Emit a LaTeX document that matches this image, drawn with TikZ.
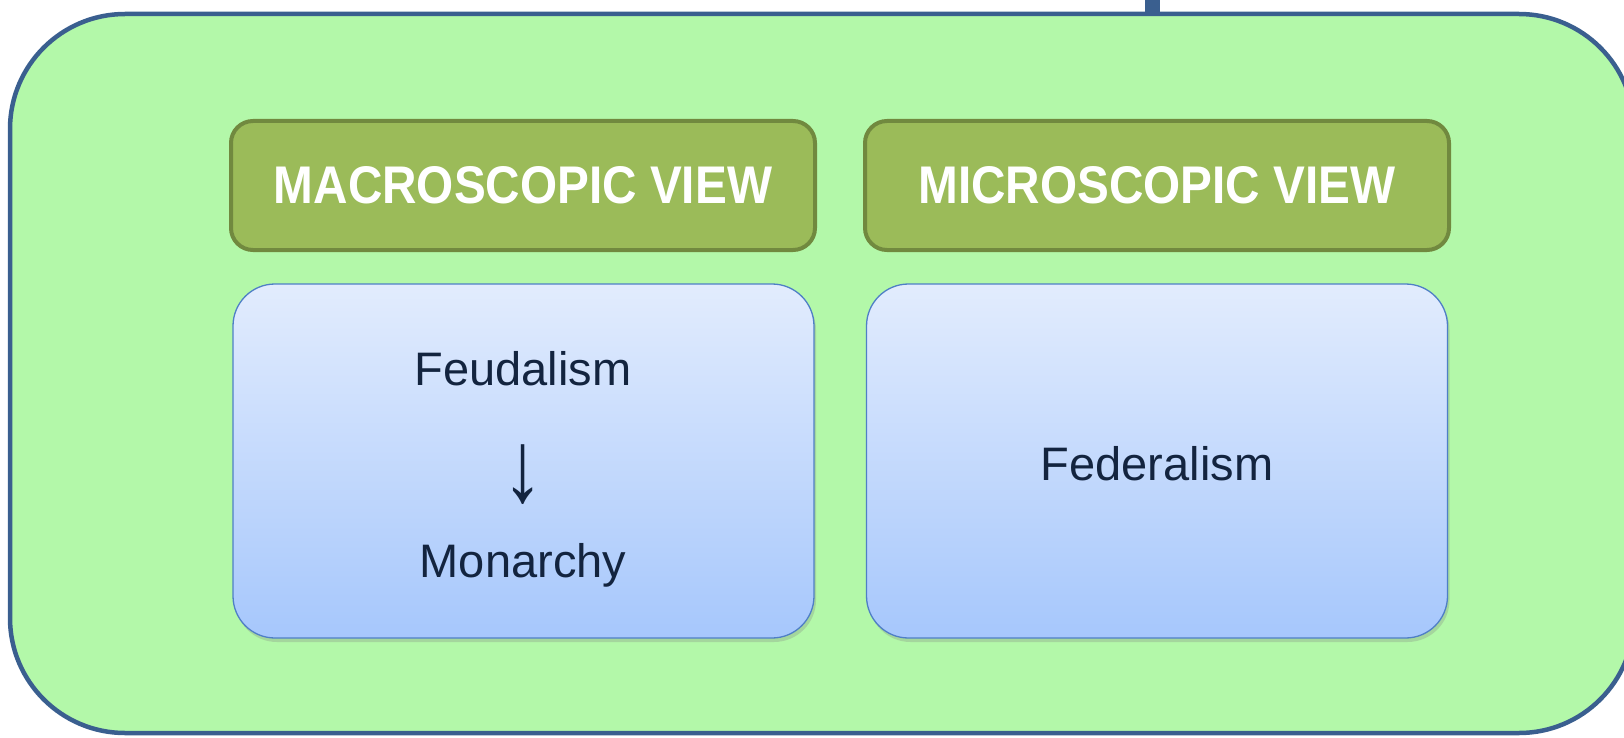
\documentclass[tikz,border=0pt]{standalone}
\usepackage{fontspec}
\setmainfont{Liberation Sans}
\usetikzlibrary{shadows}
\definecolor{outerfill}{HTML}{B3F8A9}
\definecolor{outerline}{HTML}{3A5F8F}
\definecolor{hdrfill}{HTML}{9BBB59}
\definecolor{hdrline}{HTML}{71893F}
\definecolor{boxtop}{HTML}{E2ECFD}
\definecolor{boxbot}{HTML}{A6C7FC}
\definecolor{boxline}{HTML}{4F7FC6}
\definecolor{txt}{HTML}{13243F}
\begin{document}
\begin{tikzpicture}[x=1pt,y=-1pt,
  hdr/.style={draw=hdrline, line width=4pt, fill=hdrfill, rounded corners=22pt,
    minimum width=584pt, minimum height=129pt, inner sep=0pt, text=white,
    font=\fontsize{53}{60}\selectfont\bfseries},
  bluebox/.style={draw=boxline, line width=1.3pt, rounded corners=42pt,
    top color=boxtop, bottom color=boxbot,
    minimum width=581pt, minimum height=354pt, inner sep=0pt,
    drop shadow={opacity=0.28, shadow xshift=2pt, shadow yshift=-4pt}},
  lbl/.style={text=txt, font=\fontsize{47}{56}\selectfont, inner sep=0pt, anchor=base}
]
\useasboundingbox (0,0) rectangle (1624,738);
% connector stub at top
\fill[outerline] (1145,-2) rectangle (1160,16);
% outer panel
\draw[outerline, line width=4.5pt, fill=outerfill, rounded corners=115pt]
  (10,14) rectangle (1634,733);
% headers
\node[hdr] (hmac) at (523,185.5) {\scalebox{0.9}[1]{MACROSCOPIC VIEW}};
\node[hdr] (hmic) at (1157,185.5) {\scalebox{0.9}[1]{MICROSCOPIC VIEW}};
% content boxes
\node[bluebox] (bmac) at (523.5,461) {};
\node[bluebox] (bmic) at (1157,461) {};
% labels
\node[lbl] (feud) at (523,385) {Feudalism};
\node[text=txt, inner sep=0pt, anchor=center] (arr) at (523,475)
  {\fontsize{47}{56}\selectfont\scalebox{1.75}[2.15]{↓}};
\node[lbl] (mon) at (523,577) {Monarchy};
\node[lbl] (fed) at (1157,480) {Federalism};
\end{tikzpicture}
\end{document}
